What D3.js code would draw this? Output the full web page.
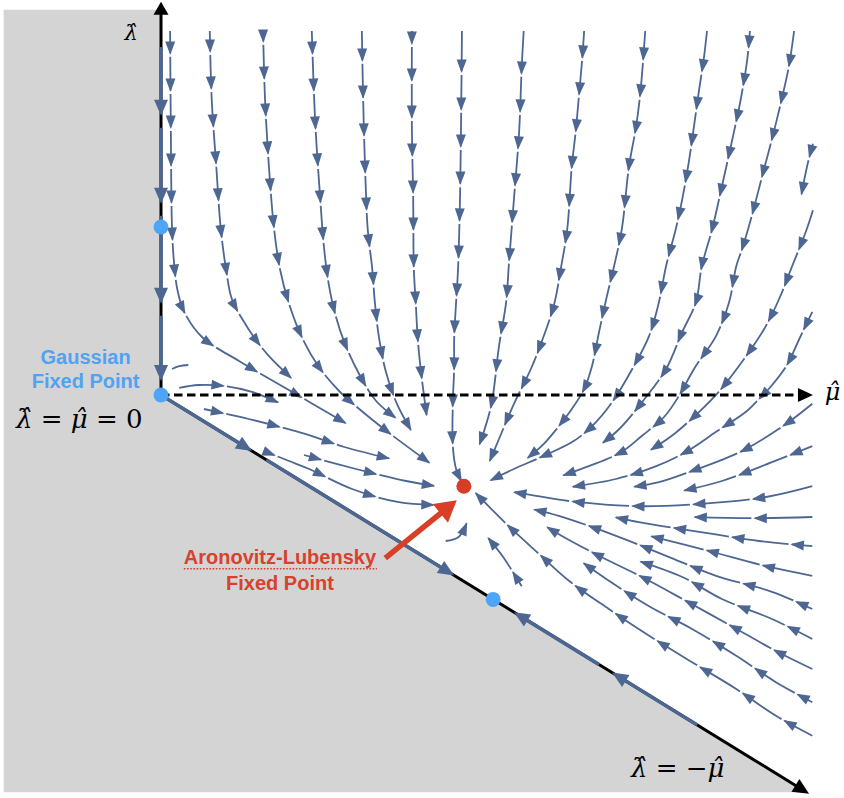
<!DOCTYPE html>
<html>
<head>
<meta charset="utf-8">
<script src="https://cdn.jsdelivr.net/npm/d3@7"></script>
<style>
body { margin: 0; background: #fff; }
svg { display: block; }
.stream { fill: none; stroke: #4d6792; stroke-width: 1.8; }
.head { fill: #4d6792; }
.thick { fill: none; stroke: #4d6792; stroke-width: 3.6; }
.axis { fill: none; stroke: #000; stroke-width: 3; }
.math { font-family: "DejaVu Serif", serif; fill: #000; }
.tag { font-family: "Liberation Sans", Arial, sans-serif; font-weight: bold; font-size: 20px; text-anchor: middle; }
</style>
</head>
<body>
<div id="chart"></div>
<script>
// streamlines, [mu, lambda] pairs in flow order
var topLines = [
  [[1.4,91],[1.5,69],[1.7,41.5],[2.0,33.2],[2.5,26.5],[3.5,21],[6.3,14.5],[12.0,8.5],[19.4,1.5],[28.6,-7.2]],
  [[7.5,91],[7.8,74],[8.5,57.2],[9.2,41.5],[10.0,31.5],[10.9,24],[12.5,19],[14.5,14],[16.9,9.2],[20.2,4]],
  [[15.7,91],[16.0,74],[16.6,57.2],[17.4,41.5],[18.3,31.5],[19.7,22.8],[21.8,14],[24.3,7],[27.4,1],[30.5,-3.5],[35.1,-9.5],[41.5,-17.2]],
  [[23.2,91],[23.7,69],[24.5,49],[25.1,36.5],[25.8,27.8],[26.8,20.2],[28.3,12.8],[30.5,5.2],[33.1,-1.5],[36.3,-6]],
  [[30.9,91],[31.1,74],[31.4,56.5],[31.8,41.5],[32.5,31.5],[32.9,23.2],[33.5,14.8],[34.6,5.8],[36.3,-2.2],[38.6,-9.2]],
  [[38.6,91],[38.6,66.5],[38.8,49],[38.9,31.5],[39.2,22.8],[39.5,14],[40.0,5.8],[40.9,-5.5]],
  [[46.3,91],[46.2,74],[46.0,49],[45.7,31.5],[45.4,23.2],[45.1,14],[45.1,6.5],[44.9,-1.8],[44.9,-12.8],[45.4,-18.5],[46.3,-21.8]],
  [[55.8,91],[55.5,82.2],[55.1,65.8],[54.3,49],[53.5,32.2],[53.1,23.2],[52.0,12.2],[50.9,-1.8],[49.8,-8.5],[48.9,-12.8]],
  [[65.1,91],[64.8,84],[64.3,74.8],[63.8,65.8],[63.2,57.2],[62.5,41.5],[61.5,31.5],[60.5,22.8],[58.9,14.8],[56.9,6.5],[54.3,-2.2],[52.0,-11],[50.5,-16.8]],
  [[74.5,91],[73.8,76.5],[73.1,67.2],[72.0,57.2],[70.9,41.5],[69.7,32.2],[68.5,24],[67.4,15.8],[66.3,7.2],[65.1,1.5],[63.2,-3.5],[61.2,-7.8],[58.9,-12.2],[56.2,-16]],
  [[84.0,91],[83.5,84],[82.8,76.5],[82.0,67.2],[81.2,58.2],[80.2,49],[79.2,41.5],[77.7,32.2],[76.6,23.2],[75.1,14.8],[72.5,6.5],[69.4,-1.8],[66.3,-7.8],[63.5,-11.5],[58.9,-15.2],[54.3,-18.5],[50.5,-21.5]],
  [[90.6,91],[90.2,84],[89.2,74],[87.8,63.2],[86.3,52.2],[84.8,41.5],[83.2,32.2],[82.3,23.2],[80.2,15.8],[77.7,6.5],[74.0,-1.8],[70.5,-8.5],[67.8,-12.2]],
  [[97.4,91],[96.6,82.2],[95.5,74],[94.0,64],[92.5,54.8],[90.9,44.8],[89.4,36.5],[88.5,32.2],[87.4,23.2],[85.4,14.8],[82.0,6.5],[79.7,-0.2],[77.4,-5.5],[74.0,-10.2],[70.9,-14.2],[65.8,-17.8],[61.7,-20.2]],
  [[100.3,62.8],[99.4,57.2],[98.5,49.8]]
];
var rightLines = [
  [[100.3,46.2],[99.2,40.8],[97.1,32.2],[95.1,24],[92.8,16.5],[89.7,9],[85.8,0.8],[82.8,-4.2],[78.9,-9.8],[75.1,-14]],
  [[100.2,20.8],[98.2,14],[96.2,7.2],[93.5,1.5],[92.0,-1],[90.0,-4.2],[85.4,-9.2],[80.8,-14.2],[76.2,-17.8],[70.0,-21],[63.1,-23]],
  [[100.2,-2.2],[96.2,-7.2],[90.0,-13.5],[85.4,-16.8],[81.7,-19],[76.6,-21.8],[72.5,-23]],
  [[100.2,-12.8],[94.0,-16.8],[86.3,-21.5],[80.2,-24]],
  [[100.2,-22.8],[93.1,-25.5],[83.2,-27.2],[73.5,-27.8],[64.3,-26.8],[57.7,-25.2],[54.0,-24.2]],
  [[100.2,-30.5],[92.0,-30.8],[81.7,-30.5]],
  [[100.2,-37.8],[92.0,-36.5],[82.8,-34.2],[73.5,-31.8],[69.7,-30.5]],
  [[100.2,-45.2],[93.1,-42.8],[84.3,-39],[75.1,-35.2]],
  [[100.2,-53.5],[94.0,-49.2],[85.4,-45.2],[77.7,-40.2],[70.0,-35.2],[61.2,-30.2],[57.1,-28.5]],
  [[100.2,-61],[94.0,-56],[86.3,-51],[80.2,-45.5],[73.5,-41.5]],
  [[100.2,-68.5],[94.6,-64],[87.8,-57.8],[80.8,-51.5],[74.0,-45.5],[66.9,-39.8],[61.2,-34.8],[59.2,-32.8]],
  [[100.2,-76.8],[94.6,-71.8],[88.5,-65.2],[81.7,-58.5],[75.1,-52.8],[68.5,-46],[64.8,-41.8]],
  [[100.2,-85.2],[94.6,-80.2],[88.5,-73.5],[81.7,-66.8],[75.1,-60.2],[68.9,-53.5],[62.8,-46.5],[58.2,-39.8],[53.5,-32.8],[48.2,-24.2]]
];
var nearLines = [
  [[55.5,-47.8],[52.5,-40.2],[50.2,-35.5]],
  [[43.8,-36.5],[45.8,-35.5],[47.1,-31.8]]
];
var originLines = [
  [[1.7,6.5],[2.8,7.2],[4.2,7.5]],
  [[2.8,1.8],[5.8,2.5],[10.0,2.2],[14.0,0.8],[18.2,-2]],
  [[6.6,-3.5],[13.5,-6],[22.3,-9.8],[28.2,-13],[35.4,-16]],
  [[15.8,-14],[19.7,-16.5],[22.8,-18.5],[29.4,-23.5],[36.6,-26.8],[42.3,-27.5]],
  [[22.0,-15],[30.0,-18.5],[37.7,-21.5],[42.3,-22.8]]
];
// flow on the lambda axis (lambda from, to) and on the edge lambda = -mu (mu from, to)
var axisStream = [[87,69.8],[66.8,47.8],[44.8,22.8],[19.8,3.5]];
var edgeStream = [[0,14],[16.2,45.1],[82.5,69.4],[67.4,54.3]];
var blueFixed = [[0,0],[0,42],[51.1,-51.1]];
var alFixed = [46.6,-22.8];
var pointer = [[34.5,-40.8],[45.5,-26.3]];

var width = 844, height = 798;
var x = d3.scaleLinear().domain([0,100]).range([161,811]);
var y = d3.scaleLinear().domain([-100,100]).range([795,-5]);
var kx = x(1)-x(0), ky = y(0)-y(1);
var step = 9.3;

var svg = d3.select("#chart").append("svg")
  .attr("width", width).attr("height", height);

// forbidden region
svg.append("path")
  .attr("d", d3.line()([[x(-24.2),y(96.3)],[x(0),y(96.3)],[x(0),y(0)],[x(99.3),y(-99.3)],[x(-24.2),y(-99.3)]]) + "Z")
  .attr("fill", "#d4d4d4");

function head(g, node, s, len, hw, cls, fill){
  var p = node.getPointAtLength(s), q = node.getPointAtLength(Math.max(0, s-4));
  var dx = p.x-q.x, dy = p.y-q.y, n = Math.hypot(dx,dy) || 1;
  dx /= n; dy /= n;
  var bx = p.x-dx*len, by = p.y-dy*len;
  g.append("polygon")
    .attr("class", cls)
    .attr("fill", fill || null)
    .attr("points", [[p.x,p.y],[bx-dy*hw,by+dx*hw],[bx+dy*hw,by-dx*hw]].join(" "));
}

var line = d3.line().x(function(d){ return x(d[0]); }).y(function(d){ return y(d[1]); })
  .curve(d3.curveCatmullRom.alpha(0.5));

// black axes
svg.append("path").attr("class","axis").attr("d", d3.line()([[x(0),y(0)],[x(0),y(96)]]));
var lamAx = svg.append("path").attr("d", d3.line()([[x(0),y(0)],[x(0),y(98.3)]])).attr("fill","none");
head(svg, lamAx.node(), lamAx.node().getTotalLength(), 13, 7.5, null, "#000");
svg.append("path").attr("class","axis").attr("d", d3.line()([[x(0),y(0)],[x(98),y(-98)]]));
var edgeAx = svg.append("path").attr("d", d3.line()([[x(0),y(0)],[x(99.7),y(-99.7)]])).attr("fill","none");
head(svg, edgeAx.node(), edgeAx.node().getTotalLength(), 16, 7.5, null, "#000");

// thick flows along the edges
function thick(pts){
  var p = svg.append("path").attr("class","thick").attr("d", d3.line()(pts));
  var node = p.node(), L = node.getTotalLength();
  p.attr("stroke-dasharray", (L-8) + "," + 40);
  head(svg, node, L, 16, 7, "head");
}
axisStream.forEach(function(s){ thick([[x(0),y(s[0])],[x(0),y(s[1])]]); });
edgeStream.forEach(function(s){ thick([[x(s[0]),y(-s[0])],[x(s[1]),y(-s[1])]]); });

// thin streamlines with arrowheads every `step` data units, counted back from the end
var gStream = svg.append("g");
function stream(pts){
  var path = gStream.append("path").attr("class","stream").attr("d", line(pts));
  var node = path.node(), L = node.getTotalLength();
  if (L < 22) return;
  var acc = [0], prev = node.getPointAtLength(0), total = 0;
  for (var s = 1; s <= Math.ceil(L); s++){
    var p = node.getPointAtLength(Math.min(s, L));
    total += Math.hypot((p.x-prev.x)/kx, (p.y-prev.y)/ky);
    acc.push(total); prev = p;
  }
  var tips = [];
  for (var t = total - 0.2; t > 0; t -= step){
    var i = d3.bisectLeft(acc, t), sp = Math.min(i, L);
    if (sp < 11) break;
    tips.push(sp);
  }
  tips.reverse();
  var dash = [], pos = 0, gap = 3.5;
  tips.forEach(function(sp){
    dash.push(Math.max(0, sp-1.5-pos), gap);
    pos = sp-1.5+gap;
  });
  dash.push(Math.max(0, L-pos+5), 20);
  path.attr("stroke-dasharray", dash.join(","));
  tips.forEach(function(sp){ head(gStream, node, sp, 13.5, 5, "head"); });
}
topLines.concat(rightLines, nearLines, originLines).forEach(stream);

// dashed mu axis
svg.append("path").attr("d", d3.line()([[x(0),y(0)],[x(98.5),y(0)]]))
  .attr("fill","none").attr("stroke","#000").attr("stroke-width",3).attr("stroke-dasharray","8.5,4.5");
var muTip = svg.append("path").attr("d", d3.line()([[x(0),y(0)],[x(100.3),y(0)]])).attr("fill","none");
head(svg, muTip.node(), muTip.node().getTotalLength(), 15, 7, null, "#000");

// fixed points
svg.selectAll("circle.fp").data(blueFixed).enter().append("circle")
  .attr("class","fp").attr("cx", function(d){ return x(d[0]); }).attr("cy", function(d){ return y(d[1]); })
  .attr("r", 7.5).attr("fill", "#4ea5f7");
svg.append("circle").attr("cx", x(alFixed[0])).attr("cy", y(alFixed[1])).attr("r", 7.5).attr("fill", "#d63c26");

// red pointer
var ptr = svg.append("path").attr("d", d3.line()(pointer.map(function(d){ return [x(d[0]), y(d[1])]; })))
  .attr("fill","none").attr("stroke","#d93f27").attr("stroke-width",5.5);
var pl = ptr.node().getTotalLength();
ptr.attr("stroke-dasharray", (pl-14) + ",40");
head(svg, ptr.node(), pl, 21, 12, null, "#d93f27");

// math labels, hats as combining circumflex
function math(mu, lam, size, pieces, anchor){
  var t = svg.append("text").attr("class","math").attr("font-size", size)
    .attr("x", x(mu)).attr("y", y(lam)).attr("text-anchor", anchor || "start");
  pieces.forEach(function(p){
    t.append("tspan").attr("font-style", p[1] ? "italic" : null).text(p[0]);
  });
}
math(-4.6, 88.8, 21, [["λ\u0302",1]], "middle");
math(102.1, -1.3, 24, [["μ\u0302",1]]);
math(-22.3, -8.3, 26, [["λ\u0302",1],[" = ",0],["μ\u0302",1],[" = 0",0]]);
math(72.3, -95.5, 26, [["λ\u0302",1],[" = −",0],["μ\u0302",1]]);

svg.append("text").attr("class","tag").attr("fill","#4fa3f2")
  .attr("x", x(-11.6)).attr("y", y(7.8)).text("Gaussian");
svg.append("text").attr("class","tag").attr("fill","#4fa3f2")
  .attr("x", x(-11.6)).attr("y", y(1.8)).text("Fixed Point");
var al = svg.append("text").attr("class","tag").attr("fill","#d8412c")
  .attr("x", x(18.3)).attr("y", y(-42.3)).text("Aronovitz-Lubensky");
svg.append("text").attr("class","tag").attr("fill","#d8412c")
  .attr("x", x(18.3)).attr("y", y(-48.8)).text("Fixed Point");
var bb = al.node().getBBox();
svg.append("line").attr("x1", bb.x).attr("x2", bb.x+bb.width)
  .attr("y1", y(-42.3)+4.5).attr("y2", y(-42.3)+4.5)
  .attr("stroke","#d8412c").attr("stroke-width",1.6).attr("stroke-dasharray","1.6,1.6");
</script>
</body>
</html>
